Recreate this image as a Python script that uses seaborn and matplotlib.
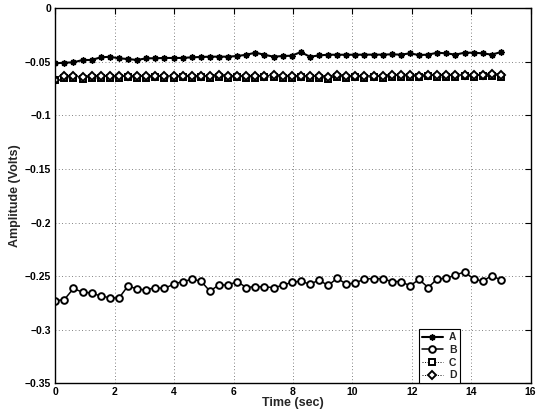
import numpy as np
import pandas as pd
import matplotlib
matplotlib.use("Agg")
import matplotlib.pyplot as plt
from matplotlib.ticker import FuncFormatter
import seaborn as sns

# Sample times (sec): 50 samples from 0 to 15
time_sec = np.linspace(0, 15, 50)

amp_a = [-0.0513, -0.0507, -0.0504, -0.0482, -0.0482, -0.0457, -0.0452, -0.0466, -0.0473, -0.0482,
         -0.0466, -0.0466, -0.0463, -0.0463, -0.0463, -0.0457, -0.0454, -0.0451, -0.0451, -0.0451,
         -0.0445, -0.0433, -0.0414, -0.0433, -0.0451, -0.0445, -0.0442, -0.0408, -0.0452, -0.0439,
         -0.0433, -0.0433, -0.0433, -0.0433, -0.0432, -0.0432, -0.0432, -0.0429, -0.0432, -0.0420,
         -0.0436, -0.0432, -0.0414, -0.0420, -0.0432, -0.0414, -0.0414, -0.0420, -0.0432, -0.0408]

amp_b = [-0.2730, -0.2718, -0.2615, -0.2650, -0.2656, -0.2687, -0.2700, -0.2705, -0.2590, -0.2621,
         -0.2628, -0.2606, -0.2615, -0.2575, -0.2550, -0.2531, -0.2544, -0.2640, -0.2581, -0.2584,
         -0.2550, -0.2606, -0.2597, -0.2600, -0.2606, -0.2587, -0.2556, -0.2547, -0.2575, -0.2537,
         -0.2587, -0.2519, -0.2575, -0.2562, -0.2528, -0.2522, -0.2525, -0.2550, -0.2550, -0.2590,
         -0.2531, -0.2606, -0.2525, -0.2519, -0.2490, -0.2460, -0.2525, -0.2547, -0.2494, -0.2537]

amp_c = [-0.0668, -0.0650, -0.0646, -0.0655, -0.0648, -0.0651, -0.0646, -0.0650, -0.0645, -0.0649,
         -0.0652, -0.0641, -0.0650, -0.0646, -0.0643, -0.0650, -0.0645, -0.0648, -0.0642, -0.0649,
         -0.0644, -0.0646, -0.0650, -0.0645, -0.0640, -0.0651, -0.0646, -0.0644, -0.0650, -0.0652,
         -0.0655, -0.0640, -0.0646, -0.0644, -0.0647, -0.0643, -0.0646, -0.0640, -0.0639, -0.0637,
         -0.0643, -0.0636, -0.0641, -0.0642, -0.0638, -0.0635, -0.0640, -0.0636, -0.0633, -0.0638]

amp_d = [-0.0665, -0.0632, -0.0634, -0.0640, -0.0636, -0.0633, -0.0635, -0.0628, -0.0636, -0.0632,
         -0.0630, -0.0627, -0.0634, -0.0631, -0.0628, -0.0634, -0.0630, -0.0632, -0.0626, -0.0633,
         -0.0630, -0.0628, -0.0634, -0.0631, -0.0624, -0.0636, -0.0630, -0.0628, -0.0634, -0.0636,
         -0.0640, -0.0626, -0.0630, -0.0628, -0.0632, -0.0628, -0.0631, -0.0626, -0.0624, -0.0622,
         -0.0627, -0.0621, -0.0625, -0.0626, -0.0623, -0.0619, -0.0624, -0.0620, -0.0617, -0.0622]

series_names = ["A", "B", "C", "D"]
x_ticks = list(range(0, 17, 2))
y_ticks = [-0.35, -0.3, -0.25, -0.2, -0.15, -0.1, -0.05, 0]

sns.set_style("white")
plt.rcParams["font.family"] = ["Liberation Sans", "DejaVu Sans"]
plt.rcParams["font.weight"] = "bold"
plt.rcParams["axes.unicode_minus"] = True

fig = plt.figure(figsize=(5.42, 4.12), dpi=100)
ax = fig.add_axes([0.102, 0.0697, 0.877, 0.910])

df = pd.DataFrame({"t": time_sec, "A": amp_a, "B": amp_b, "C": amp_c, "D": amp_d})

styles = {
    "A": dict(marker=(8, 2, 0), markersize=4.5, markeredgewidth=1.1, linestyle="-", linewidth=1.5),
    "B": dict(marker="o", markersize=4.8, markeredgewidth=1.4, markerfacecolor="white",
              linestyle="-", linewidth=1.1),
    "C": dict(marker="s", markersize=3.8, markeredgewidth=1.4, markerfacecolor="white",
              linestyle=":", linewidth=0.7),
    "D": dict(marker="D", markersize=3.6, markeredgewidth=1.4, markerfacecolor="white",
              linestyle=":", linewidth=0.7),
}

for name in series_names:
    sns.lineplot(data=df, x="t", y=name, ax=ax, label=name, color="black",
                 markeredgecolor="black", **styles[name])

ax.set_xlim(0, 16)
ax.set_ylim(-0.35, 0)
ax.set_xticks(x_ticks)
ax.set_yticks(y_ticks)
ax.yaxis.set_major_formatter(FuncFormatter(lambda v, p: "0" if abs(v) < 1e-12 else f"{v:g}".replace("-", "\u2212")))

ax.grid(True, color="0.35", linestyle=(0, (1, 3)), linewidth=0.6)
ax.set_axisbelow(True)
for sp in ax.spines.values():
    sp.set_visible(True)
    sp.set_color("black")
    sp.set_linewidth(1.0)

ax.tick_params(direction="in", length=4, width=0.8, top=True, right=True,
               labelsize=7.5, pad=3, colors="black")
for lab in ax.get_xticklabels() + ax.get_yticklabels():
    lab.set_fontweight("bold")

ax.set_xlabel("Time (sec)", fontsize=9, fontweight="bold", labelpad=0)
ax.set_ylabel("Amplitude (Volts)", fontsize=9, fontweight="bold", labelpad=3)

leg = ax.legend(loc="lower left", bbox_to_anchor=(0.765, 0.0), fontsize=7.5, frameon=True,
                fancybox=False, framealpha=1, edgecolor="black", handlelength=2.0,
                labelspacing=0.25, borderpad=0.3, handletextpad=0.6, borderaxespad=0.0)
leg.get_frame().set_linewidth(0.8)
for t in leg.get_texts():
    t.set_fontweight("bold")

fig.savefig("out.png", dpi=100, facecolor="white")
